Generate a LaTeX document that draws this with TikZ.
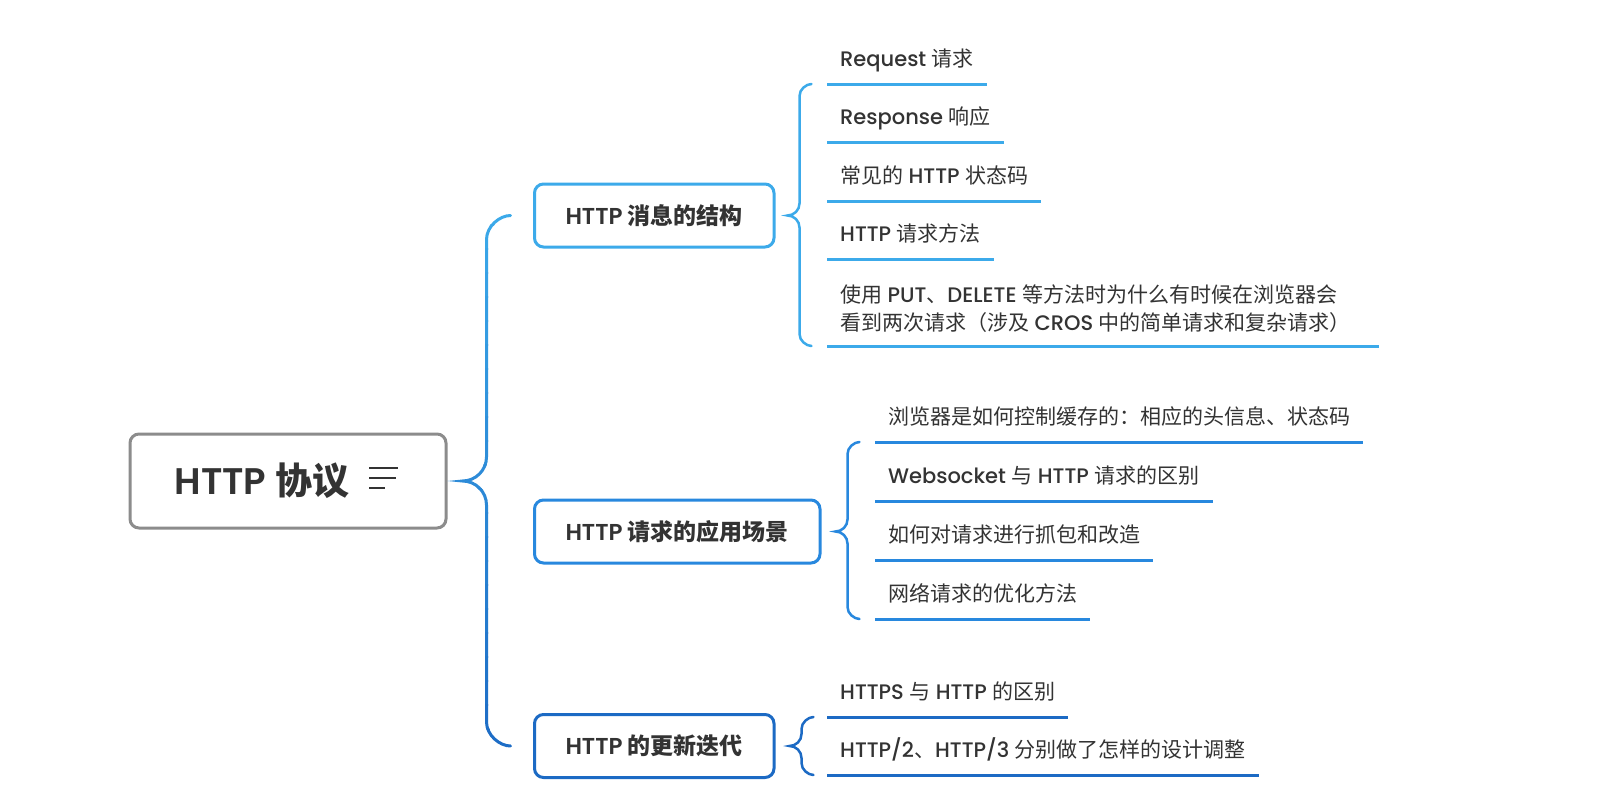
\documentclass[tikz,border=0pt]{standalone}
\usepackage{fontspec}
\setmainfont{Poppins}[UprightFont=* Medium, BoldFont=* SemiBold]
\newfontfamily\cjk{Noto Sans CJK SC}
\usetikzlibrary{calc}
\definecolor{cone}{RGB}{60,170,234}
\definecolor{ctwo}{RGB}{40,136,222}
\definecolor{cthree}{RGB}{28,106,196}
\definecolor{txt}{RGB}{51,51,51}
\definecolor{rootgray}{RGB}{140,140,140}
\newcommand\zh[1]{{\cjk #1}}
% brace: #1 node/coord giving top y, #2 giving bottom y, #3 cusp, #4 radius
\newcommand\bracepath[4]{%
 let \p1=(#1), \p2=(#2), \p3=(#3), \n1={#4} in
 ({\x3+2*\n1},\y1) .. controls ({\x3+1.55*\n1},\y1) and ({\x3+\n1},{\y1-0.45*\n1}) .. ({\x3+\n1},{\y1-\n1})
 -- ({\x3+\n1},{\y3+\n1})
 .. controls ({\x3+\n1},{\y3+0.45*\n1}) and ({\x3+0.55*\n1},\y3) .. (\x3,\y3)
 .. controls ({\x3+0.55*\n1},\y3) and ({\x3+\n1},{\y3-0.45*\n1}) .. ({\x3+\n1},{\y3-\n1})
 -- ({\x3+\n1},{\y2+\n1})
 .. controls ({\x3+\n1},{\y2+0.45*\n1}) and ({\x3+1.55*\n1},\y2) .. ({\x3+2*\n1},\y2)}
\tikzset{
  rootbox/.style={draw=rootgray, line width=3pt, rounded corners=9pt, fill=white,
    minimum width=316pt, minimum height=94pt, inner sep=0pt, text=txt,
    font=\bfseries\fontsize{37}{40}\selectfont},
  topicbox/.style={draw, line width=3pt, rounded corners=9pt, fill=white, anchor=west,
    minimum height=63pt, inner xsep=31pt, inner ysep=0pt, text=txt,
    font=\bfseries\fontsize{23}{28}\selectfont},
  leaf/.style={anchor=south west, inner xsep=13pt, inner ysep=0pt, text depth=17pt,
    text height=18pt, text=txt, font=\fontsize{21}{28}\selectfont},
  ul/.style={line width=3pt},
  brc/.style={line width=2.5pt, line cap=round}
}
\begin{document}
\begin{tikzpicture}[x=1pt,y=-1pt]
\fill[white] (0,0) rectangle (1601,803);
\useasboundingbox (0,0) rectangle (1601,803);

% root
\node[rootbox] (root) at (288,481) {HTTP \zh{协议}\kern52pt};
\draw[line width=2.5pt, color=txt] (369,468) -- (398,468) (369,478) -- (396,478) (369,488) -- (385,488);

% topics
\node[topicbox, draw=cone] (b1) at (533,215.5) {HTTP \zh{消息的结构}};
\node[topicbox, draw=ctwo] (b2) at (533,531.5) {HTTP \zh{请求的应用场景}};
\node[topicbox, draw=cthree] (b3) at (533,746) {HTTP \zh{的更新迭代}};

% leaves of b1
\node[leaf] (l1) at (827,84) {Request \zh{请求}};
\node[leaf] (l2) at (827,142) {Response \zh{响应}};
\node[leaf] (l3) at (827,201) {\zh{常见的} HTTP \zh{状态码}};
\node[leaf] (l4) at (827,259) {HTTP \zh{请求方法}};
\node[leaf, text depth=15pt] (l5) at (827,346) {\begin{tabular}[b]{@{}l@{}}\zh{使用} PUT\zh{、}DELETE \zh{等方法时为什么有时候在浏览器会}\\\zh{看到两次请求（涉及} CROS \zh{中的简单请求和复杂请求）}\end{tabular}};

% leaves of b2
\node[leaf] (m1) at (875,442) {\zh{浏览器是如何控制缓存的：相应的头信息、状态码}};
\node[leaf] (m2) at (875,501) {Websocket \zh{与} HTTP \zh{请求的区别}};
\node[leaf] (m3) at (875,560) {\zh{如何对请求进行抓包和改造}};
\node[leaf] (m4) at (875,619) {\zh{网络请求的优化方法}};

% leaves of b3
\node[leaf] (n1) at (827,717) {HTTPS \zh{与} HTTP \zh{的区别}};
\node[leaf] (n2) at (827,775) {HTTP/2\zh{、}HTTP/3 \zh{分别做了怎样的设计调整}};

% underlines
\foreach \n in {l1,l2,l3,l4}{\draw[ul, cone] (\n.south west) -- (\n.south east);}
\draw[ul, cone] (l5.south west) -- ([xshift=15pt]l5.south east);
\foreach \n in {m1,m2,m3,m4}{\draw[ul, ctwo] (\n.south west) -- (\n.south east);}
\foreach \n in {n1,n2}{\draw[ul, cthree] (\n.south west) -- (\n.south east);}

% cusps
\coordinate (rc) at ([xshift=15pt]root.east);
\coordinate (c1) at ([xshift=12pt]b1.east);
\coordinate (c2) at ([xshift=14pt]b2.east);
\coordinate (c3) at ([xshift=14pt]b3.east);

% root brace with gradient
\foreach \i in {0,...,23}{
  \pgfmathtruncatemacro\pc{100-\i*100/23}
  \begin{scope}
    \clip (0,{200+\i*24}) rectangle (1601,{225+\i*24});
    \draw[brc, line width=3pt, color=cone!\pc!cthree] \bracepath{b1.west}{b3.west}{rc}{24pt};
  \end{scope}
}
% topic braces
\draw[brc, cone] \bracepath{l1.south west}{l5.south west}{c1}{12pt};
\draw[brc, ctwo] \bracepath{m1.south west}{m4.south west}{c2}{12pt};
\draw[brc, cthree] \bracepath{n1.south west}{n2.south west}{c3}{12pt};
\end{tikzpicture}
\end{document}
